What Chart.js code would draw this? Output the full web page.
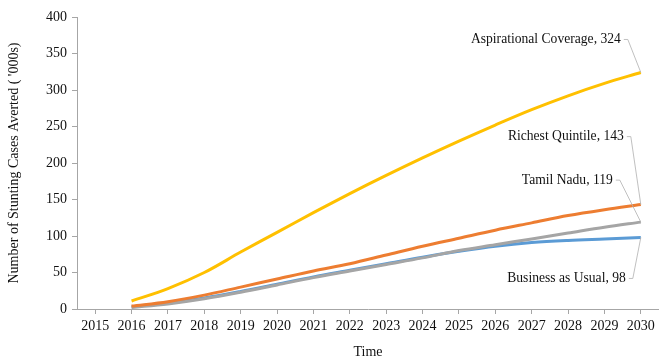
<!DOCTYPE html>
<html>
<head>
<meta charset="utf-8">
<script src="https://cdn.jsdelivr.net/npm/chart.js@4"></script>
<style>
  html, body { margin: 0; padding: 0; background: #fff; }
  #wrap { width: 659px; height: 361px; position: relative; }
</style>
</head>
<body>
<div id="wrap"><canvas id="stuntingChart"></canvas></div>
<script>
// years on the x axis
const years = ["2015", "2016", "2017", "2018", "2019", "2020", "2021", "2022", "2023",
  "2024", "2025", "2026", "2027", "2028", "2029", "2030"];

// cases averted ('000s)
const aspirational = [null, 11, 28, 50, 78, 105, 132, 158, 183, 207, 230, 252, 273, 292, 309, 324];
const richest = [null, 4, 10, 19, 30, 41, 52, 62, 74, 86, 97, 108, 118, 128, 136, 143];
const tamilNadu = [null, 2, 7, 14, 23, 33, 43, 52, 61, 70, 80, 88, 96, 104, 112, 119];
const businessAsUsual = [null, 3, 8, 15, 24, 34, 44, 53, 62, 71, 79, 86, 91, 94, 96, 98];

const seriesNames = ["Aspirational Coverage", "Richest Quintile", "Tamil Nadu", "Business as Usual"];
const seriesColors = ["#FFC000", "#ED7D31", "#A5A5A5", "#5B9BD5"];
const yTicks = [0, 50, 100, 150, 200, 250, 300, 350, 400];

// where each end label sits relative to its last point (dx, dy)
const labelOffsets = [[-20, -33], [-17, -68], [-28, -42], [-15, 41]];

const FONT = "'Liberation Serif', 'Times New Roman', serif";
const TEXT = "#111";

// draws the "Name, value" labels with thin leader lines to the 2030 points
const endLabels = {
  id: "endLabels",
  afterDatasetsDraw(chart) {
    const ctx = chart.ctx;
    const x = chart.scales.x;
    const y = chart.scales.y;
    ctx.save();
    ctx.font = "13.6px " + FONT;
    ctx.textAlign = "right";
    ctx.textBaseline = "middle";
    chart.data.datasets.forEach((ds, i) => {
      const last = ds.data.length - 1;
      const px = x.getPixelForValue(last);
      const py = y.getPixelForValue(ds.data[last]);
      const [dx, dy] = labelOffsets[i];
      const tx = px + dx;
      const ty = py + dy;
      ctx.strokeStyle = "#b0b0b0";
      ctx.lineWidth = 0.8;
      ctx.beginPath();
      ctx.moveTo(tx + 3, ty);
      ctx.lineTo(tx + 7, ty);
      ctx.lineTo(px, py);
      ctx.stroke();
      ctx.fillStyle = TEXT;
      ctx.fillText(ds.label + ", " + ds.data[last], tx, ty);
    });
    ctx.restore();
  }
};

const dataSets = [aspirational, richest, tamilNadu, businessAsUsual];
const drawOrder = [1, 2, 3, 4];

new Chart(document.getElementById("stuntingChart"), {
  type: "line",
  data: {
    labels: years,
    datasets: dataSets.map((d, i) => ({
      label: seriesNames[i],
      data: d,
      borderColor: seriesColors[i],
      backgroundColor: seriesColors[i],
      borderWidth: 3,
      pointRadius: 0,
      tension: 0.35,
      order: drawOrder[i]
    }))
  },
  options: {
    responsive: true,
    maintainAspectRatio: false,
    animation: false,
    layout: { padding: { top: 17, right: 0, bottom: 0, left: 0 } },
    plugins: {
      legend: { display: false },
      tooltip: { enabled: false }
    },
    scales: {
      x: {
        offset: true,
        grid: { display: true, drawOnChartArea: false, offset: false, tickLength: 5, color: "#a6a6a6" },
        border: { color: "#a6a6a6" },
        ticks: { color: TEXT, font: { family: FONT, size: 14 }, maxRotation: 0, autoSkip: false, padding: 4 },
        title: { display: true, text: "Time", color: TEXT, font: { family: FONT, size: 14 }, padding: { top: 4, bottom: 0 } },
        afterFit: s => { s.height = 52; }
      },
      y: {
        min: 0,
        max: 400,
        afterBuildTicks: s => { s.ticks = yTicks.map(v => ({ value: v })); },
        grid: { display: true, drawOnChartArea: false, tickLength: 5, color: "#a6a6a6" },
        border: { color: "#a6a6a6" },
        ticks: { color: TEXT, font: { family: FONT, size: 14 }, padding: 5 },
        title: { display: true, text: "Number of Stunting Cases Averted ( '000s)", color: TEXT, font: { family: FONT, size: 14 }, padding: { top: 6, bottom: 4 } },
        afterFit: s => { s.width = 77; }
      }
    }
  },
  plugins: [endLabels]
});
</script>
</body>
</html>
